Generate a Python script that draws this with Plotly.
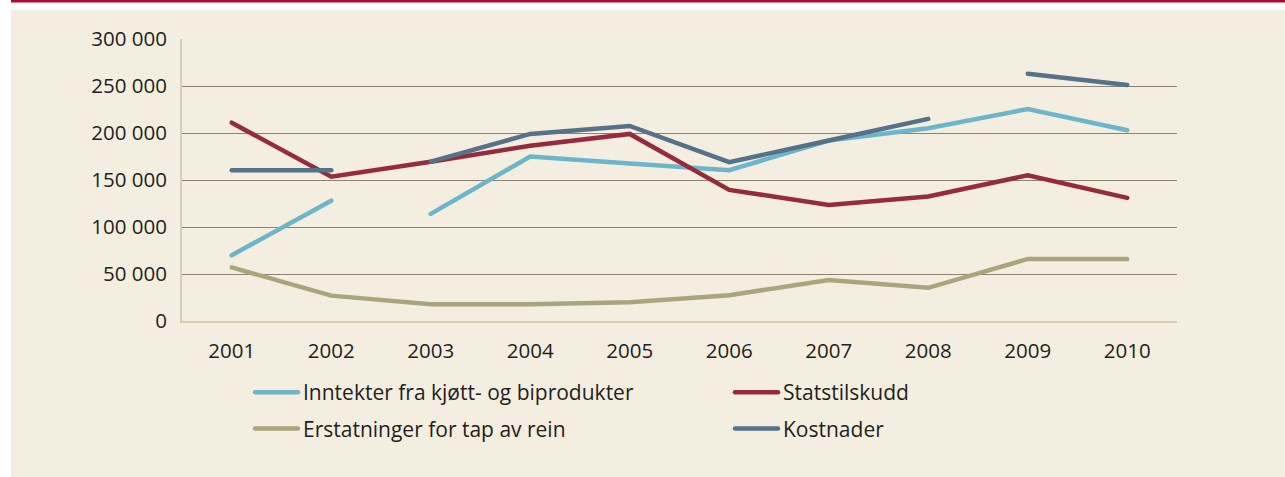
import plotly.graph_objects as go

years = [2001, 2002, 2003, 2004, 2005, 2006, 2007, 2008, 2009, 2010]
inntekter = [70000, 128000, 114000, 175000, 167500, 160500, 192000, 205000, 225500, 203000]
statstilskudd = [211000, 153500, 169500, 186500, 199000, 139500, 123500, 132500, 155000, 131000]
erstatninger = [57000, 27000, 17700, 17700, 20000, 27500, 43500, 35300, 66000, 66000]
kostnader = [160300, 160300, 169500, 199000, 207500, 169000, 192000, 215000, 263000, 251000]

# years after which a series is broken (no connecting segment to the next year)
inntekter_breaks = [2002]
kostnader_breaks = [2002, 2008]

y_ticks = [0, 50000, 100000, 150000, 200000, 250000, 300000]

names = ["Inntekter fra kjøtt- og biprodukter", "Statstilskudd",
         "Erstatninger for tap av rein", "Kostnader"]
colors = ["#6cb5cb", "#972a3c", "#a9a67b", "#56718a"]


def with_breaks(xs, ys, breaks):
    ox, oy = [], []
    for x, y in zip(xs, ys):
        ox.append(x)
        oy.append(y)
        if x in breaks:
            ox.append(None)
            oy.append(None)
    return ox, oy


series = [
    (names[0], inntekter, inntekter_breaks, colors[0], "legend"),
    (names[1], statstilskudd, [], colors[1], "legend2"),
    (names[2], erstatninger, [], colors[2], "legend"),
    (names[3], kostnader, kostnader_breaks, colors[3], "legend2"),
]

fig = go.Figure()
for i, (name, vals, brk, col, leg) in enumerate(series):
    xs, ys = with_breaks(years, vals, brk)
    fig.add_trace(go.Scatter(
        x=xs, y=ys, mode="lines", name=name,
        line=dict(color=col, width=4.5),
        connectgaps=False, legend=leg, legendgroup=name,
        hoverinfo="skip",
    ))

W, H = 1285, 477
L, R, T, B = 182, 108, 39, 156
pw, ph = W - L - R, H - T - B


def px_x(p):
    return (p - L) / pw


def px_y(p):
    return (H - B - p) / ph


bg = "#f4eee1"
font = "Open Sans"
tick_size = 20.5
leg_size = 21

fig.update_layout(
    width=W, height=H,
    margin=dict(l=L, r=R, t=T, b=B),
    paper_bgcolor=bg, plot_bgcolor=bg,
    separators=", ",
    font=dict(family=font, size=tick_size, color="#231f20"),
    showlegend=True,
    legend=dict(x=px_x(250), y=px_y(372), xanchor="left", yanchor="top",
                bgcolor="rgba(0,0,0,0)", itemwidth=43, tracegroupgap=6,
                font=dict(family=font, size=leg_size, color="#231f20")),
    legend2=dict(x=px_x(730), y=px_y(372), xanchor="left", yanchor="top",
                 bgcolor="rgba(0,0,0,0)", itemwidth=43, tracegroupgap=6,
                 font=dict(family=font, size=leg_size, color="#231f20")),
    xaxis=dict(range=[2000.5, 2010.5], tickvals=years, ticktext=[str(y) for y in years],
               showgrid=False, zeroline=False, showline=True, linecolor="#d6cfb6",
               linewidth=2, ticks="", ticklabelstandoff=10, fixedrange=True),
    yaxis=dict(range=[0, 300000], tickvals=y_ticks, tickformat=",d",
               showgrid=True, gridcolor="#8e8272", gridwidth=1,
               zeroline=False, showline=True, linecolor="#d6cfb6", linewidth=2,
               ticks="", ticklabelstandoff=9, fixedrange=True),
    shapes=[
        dict(type="rect", xref="paper", yref="paper", x0=px_x(-5), x1=px_x(11),
             y0=px_y(H + 5), y1=px_y(-5), fillcolor="white", line_width=0),
        dict(type="rect", xref="paper", yref="paper", x0=px_x(-5), x1=px_x(W + 5),
             y0=px_y(10), y1=px_y(-5), fillcolor="white", line_width=0),
        dict(type="rect", xref="paper", yref="paper", x0=px_x(11), x1=px_x(W + 5),
             y0=px_y(2.5), y1=px_y(-5), fillcolor="#a8092e", line_width=0),
    ],
)

post = (
    "document.body.style.margin='0';"
    "var s=document.createElement('style');"
    "s.textContent='.scatterlayer .js-line, .legendlines path{stroke-linecap:round;}';"
    "document.head.appendChild(s);"
)
fig.write_html("out.html", post_script=post, config={"displayModeBar": False})
